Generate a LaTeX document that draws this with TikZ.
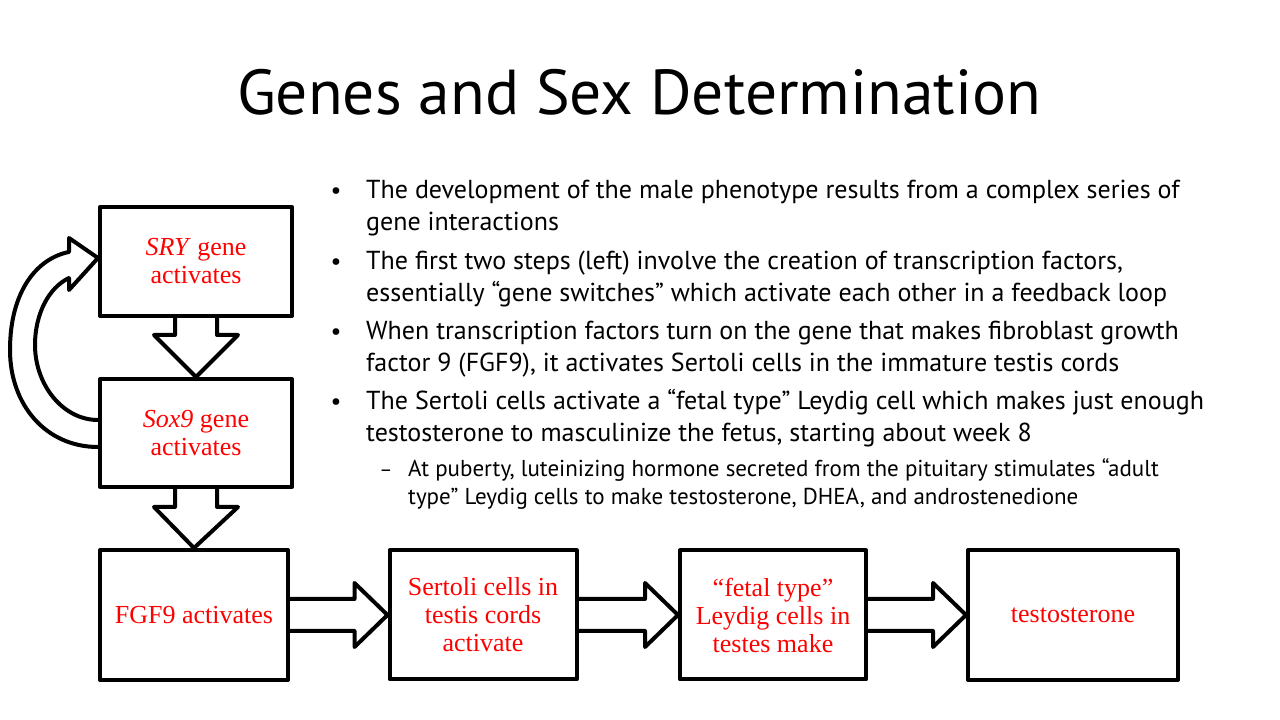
\documentclass[tikz,border=0pt]{standalone}
\usepackage{fontspec}
\setmainfont{Liberation Serif}
\newfontfamily\slidefont{PT Sans}
\usetikzlibrary{calc}
\definecolor{labelred}{rgb}{1,0,0}

\begin{document}
\begin{tikzpicture}[x=1pt, y=1pt,
    stepbox/.style={draw=black, line width=4pt, line join=round, inner sep=0pt,
        align=center, text=labelred, font=\fontsize{26}{28}\selectfont},
    blockarrow/.style={draw=black, line width=4pt, line join=round},
    bullettext/.style={anchor=base west, align=left, inner sep=0pt,
        font=\slidefont\fontsize{26}{32}\selectfont},
    subtext/.style={anchor=base west, align=left, inner sep=0pt,
        font=\slidefont\fontsize{23}{28}\selectfont}]
\useasboundingbox (0,0) rectangle (1280,720);

% title
\node[anchor=base, inner sep=0pt, font=\slidefont\fontsize{63.5}{70}\selectfont] (title) at (639,605) {Genes and Sex Determination};

% bullets (base = last line)
\node[anchor=base, inner sep=0pt, font=\slidefont\fontsize{24}{32}\selectfont] (dot1) at (336,521) {•};
\node[bullettext] (item1) at (366,489) {The development of the male phenotype results from a complex series of\\gene interactions};
\node[anchor=base, inner sep=0pt, font=\slidefont\fontsize{24}{32}\selectfont] (dot2) at (336,450) {•};
\node[bullettext] (item2) at (366,418) {The first two steps (left) involve the creation of transcription factors,\\essentially “gene switches” which activate each other in a feedback loop};
\node[anchor=base, inner sep=0pt, font=\slidefont\fontsize{24}{32}\selectfont] (dot3) at (336,380) {•};
\node[bullettext] (item3) at (366,348) {When transcription factors turn on the gene that makes fibroblast growth\\factor 9 (FGF9), it activates Sertoli cells in the immature testis cords};
\node[anchor=base, inner sep=0pt, font=\slidefont\fontsize{24}{32}\selectfont] (dot4) at (336,310) {•};
\node[bullettext] (item4) at (366,278) {The Sertoli cells activate a “fetal type” Leydig cell which makes just enough\\testosterone to masculinize the fetus, starting about week 8};
\node[anchor=base, inner sep=0pt, font=\slidefont\fontsize{20}{28}\selectfont] (dash1) at (386,243) {–};
\node[subtext] (sub1) at (408,215) {At puberty, luteinizing hormone secreted from the pituitary stimulates “adult\\type” Leydig cells to make testosterone, DHEA, and androstenedione};

% boxes
\node[stepbox, minimum width=192, minimum height=109] (sry) at (196,458.5) {\textit{SRY} gene\\activates};
\node[stepbox, minimum width=192, minimum height=108] (sox) at (196,287) {\textit{Sox9} gene\\activates};
\node[stepbox, minimum width=188, minimum height=130] (fgf) at (194,105) {FGF9 activates};
\node[stepbox, minimum width=187, minimum height=129] (sert) at (483,105) {Sertoli cells in\\testis cords\\activate};
\node[stepbox, minimum width=186, minimum height=129] (leyd) at (773,105) {“fetal type”\\Leydig cells in\\testes make};
\node[stepbox, minimum width=210, minimum height=130] (testo) at (1073,105) {testosterone};

% downward arrows
\draw[blockarrow] ($(sry.south)+(-21,0)$) -- ($(sry.south)+(-21,-17)$) -- ($(sry.south)+(-42,-17)$) -- (sox.north)
    -- ($(sry.south)+(42,-17)$) -- ($(sry.south)+(21,-17)$) -- ($(sry.south)+(21,0)$);
\draw[blockarrow] ($(sox.south)+(-21,0)$) -- ($(sox.south)+(-21,-18)$) -- ($(sox.south)+(-42,-18)$) -- (fgf.north)
    -- ($(sox.south)+(42,-18)$) -- ($(sox.south)+(21,-18)$) -- ($(sox.south)+(21,0)$);

% sideways arrows
\draw[blockarrow] ($(fgf.east)+(0,16)$) -- ($(sert.west)+(-33,16)$) -- ($(sert.west)+(-33,32)$) -- (sert.west)
    -- ($(sert.west)+(-33,-32)$) -- ($(sert.west)+(-33,-16)$) -- ($(fgf.east)+(0,-16)$);
\draw[blockarrow] ($(sert.east)+(0,16)$) -- ($(leyd.west)+(-33,16)$) -- ($(leyd.west)+(-33,32)$) -- (leyd.west)
    -- ($(leyd.west)+(-33,-32)$) -- ($(leyd.west)+(-33,-16)$) -- ($(sert.east)+(0,-16)$);
\draw[blockarrow] ($(leyd.east)+(0,16)$) -- ($(testo.west)+(-33,16)$) -- ($(testo.west)+(-33,32)$) -- (testo.west)
    -- ($(testo.west)+(-33,-32)$) -- ($(testo.west)+(-33,-16)$) -- ($(leyd.east)+(0,-16)$);

% feedback loop
\draw[blockarrow] ($(sox.west)+(0,-14)$) .. controls ($(sox.west)+(-52,-14)$) and ($(sox.west)+(-88,28)$) .. ($(sox.west)+(-88,83)$)
    .. controls ($(sox.west)+(-88,143)$) and ($(sox.west)+(-60,175)$) .. ($(sry.west)+(-29,9.5)$)
    -- ($(sry.west)+(-29,23.5)$) -- ($(sry.west)+(0,3.5)$) -- ($(sry.west)+(-29,-28.5)$) -- ($(sry.west)+(-29,-16.5)$)
    .. controls ($(sox.west)+(-50,145)$) and ($(sox.west)+(-63,118)$) .. ($(sox.west)+(-63,88)$)
    .. controls ($(sox.west)+(-63,48)$) and ($(sox.west)+(-35,13)$) .. ($(sox.west)+(0,13)$);
\end{tikzpicture}
\end{document}
